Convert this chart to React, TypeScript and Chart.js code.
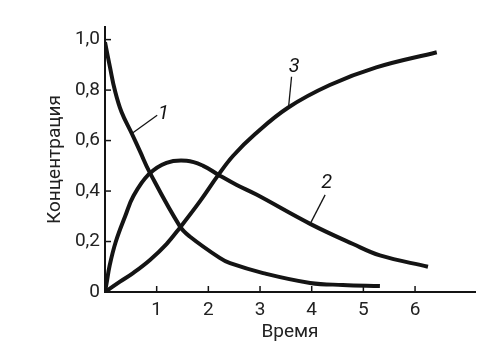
import React, { useEffect, useRef } from 'react';
import { Chart, registerables } from 'chart.js';

Chart.register(...registerables);

const FONT = "Roboto, 'DejaVu Sans', sans-serif";

// Curve 1 (reactant)
const timeA = [0, 0.097, 0.19, 0.32, 0.52, 0.68, 0.86, 1.45, 1.64, 2.22, 2.42, 3.06, 3.97, 4.6, 5.32];
const concA = [0.99, 0.89, 0.8, 0.713, 0.627, 0.556, 0.476, 0.26, 0.22, 0.135, 0.114, 0.075, 0.036, 0.028, 0.024];

// Curve 2 (intermediate)
const timeB = [0, 0.03, 0.09, 0.21, 0.39, 0.55, 0.84, 1.19, 1.58, 1.9, 2.19, 2.55, 2.93, 3.97, 4.8, 5.32, 6.25];
const concB = [0, 0.034, 0.105, 0.2, 0.3, 0.38, 0.465, 0.512, 0.52, 0.5, 0.465, 0.424, 0.386, 0.27, 0.19, 0.145, 0.1];

// Curve 3 (product)
const timeC = [0, 0.29, 0.55, 0.87, 1.19, 1.45, 1.84, 2.19, 2.48, 2.9, 3.54, 4.35, 5.25, 6.42];
const concC = [0, 0.041, 0.076, 0.127, 0.19, 0.255, 0.36, 0.463, 0.54, 0.625, 0.73, 0.82, 0.89, 0.95];

const xTickValues = [1, 2, 3, 4, 5, 6];
const yTickValues = [0, 0.2, 0.4, 0.6, 0.8, 1.0];
const xTitle = 'Время';
const yTitle = 'Концентрация';

// Curve labels with leader lines (data coordinates)
const curveLabels = ['1', '2', '3'];
const leaderFromT = [0.52, 3.97, 3.55];
const leaderFromC = [0.628, 0.27, 0.728];
const leaderToT = [1.01, 4.26, 3.61];
const leaderToC = [0.7, 0.385, 0.853];
const labelT = [1.13, 4.29, 3.66];
const labelC = [0.707, 0.43, 0.893];

const INK = '#141414';

const fmtY = (v: number) => (v === 0 ? '0' : Number(v).toFixed(1).replace('.', ','));
const fmtX = (v: number) => String(Math.round(v));

const toPoints = (ts: number[], cs: number[]) => ts.map((t, i) => ({ x: t, y: cs[i] }));

const tickFont = { family: FONT, size: 19 };

export default function App() {
  const ref = useRef<HTMLCanvasElement>(null);

  useEffect(() => {
    const extras = {
      id: 'extras',
      afterDatasetsDraw(chart: any) {
        const { ctx } = chart;
        const xs = chart.scales.x;
        const ys = chart.scales.y;
        const x0 = xs.getPixelForValue(0);
        const y0 = ys.getPixelForValue(0);
        ctx.save();
        ctx.strokeStyle = INK;
        ctx.lineWidth = 1.5;
        xTickValues.forEach((v) => {
          const px = xs.getPixelForValue(v);
          ctx.beginPath();
          ctx.moveTo(px, y0);
          ctx.lineTo(px, y0 - 6);
          ctx.stroke();
        });
        yTickValues.forEach((v) => {
          if (v === 0) return;
          const py = ys.getPixelForValue(v);
          ctx.beginPath();
          ctx.moveTo(x0, py);
          ctx.lineTo(x0 + 6, py);
          ctx.stroke();
        });
        ctx.lineWidth = 1.3;
        ctx.fillStyle = INK;
        ctx.font = `italic 20px ${FONT}`;
        ctx.textAlign = 'center';
        ctx.textBaseline = 'middle';
        curveLabels.forEach((lab, i) => {
          ctx.beginPath();
          ctx.moveTo(xs.getPixelForValue(leaderFromT[i]), ys.getPixelForValue(leaderFromC[i]));
          ctx.lineTo(xs.getPixelForValue(leaderToT[i]), ys.getPixelForValue(leaderToC[i]));
          ctx.stroke();
          ctx.fillText(lab, xs.getPixelForValue(labelT[i]), ys.getPixelForValue(labelC[i]));
        });
        ctx.restore();
      },
    };

    const ds = (ts: number[], cs: number[]) => ({
      data: toPoints(ts, cs),
      borderColor: INK,
      backgroundColor: INK,
      borderWidth: 4,
      pointRadius: 0,
      tension: 0.4,
      fill: false,
    });

    const chart = new Chart(ref.current as HTMLCanvasElement, {
      type: 'line',
      data: {
        datasets: [ds(timeA, concA), ds(timeB, concB), ds(timeC, concC)],
      },
      options: {
        responsive: false,
        animation: false,
        layout: { padding: { top: 27, right: 25, left: 0, bottom: 0 } },
        plugins: { legend: { display: false }, tooltip: { enabled: false } },
        scales: {
          x: {
            type: 'linear',
            min: 0,
            max: 7.16,
            afterBuildTicks: (s: any) => {
              s.ticks = xTickValues.map((v) => ({ value: v }));
            },
            afterFit: (s: any) => {
              s.height = 59;
            },
            grid: { display: false, drawTicks: false },
            border: { display: true, color: INK, width: 2 },
            ticks: {
              autoSkip: false,
              maxRotation: 0,
              padding: 7,
              color: '#222',
              font: tickFont,
              callback: (v: any) => fmtX(Number(v)),
            },
            title: {
              display: true,
              text: xTitle,
              color: '#222',
              font: tickFont,
              padding: { top: 0, bottom: 7 },
            },
          },
          y: {
            type: 'linear',
            min: 0,
            max: 1.05,
            afterBuildTicks: (s: any) => {
              s.ticks = yTickValues.map((v) => ({ value: v }));
            },
            afterFit: (s: any) => {
              s.width = 105;
            },
            grid: { display: false, drawTicks: false },
            border: { display: true, color: INK, width: 2 },
            ticks: {
              autoSkip: false,
              padding: 5,
              color: '#222',
              font: tickFont,
              callback: (v: any) => fmtY(Number(v)),
            },
            title: {
              display: true,
              text: yTitle,
              color: '#222',
              font: tickFont,
              padding: { top: 44, bottom: 0 },
            },
          },
        },
      },
      plugins: [extras],
    });
    return () => chart.destroy();
  }, []);

  return (
    <div style={{ position: 'fixed', left: 0, top: 0, width: 500, height: 351, background: '#fff' }}>
      <canvas ref={ref} width={500} height={351} style={{ display: 'block' }} />
    </div>
  );
}
